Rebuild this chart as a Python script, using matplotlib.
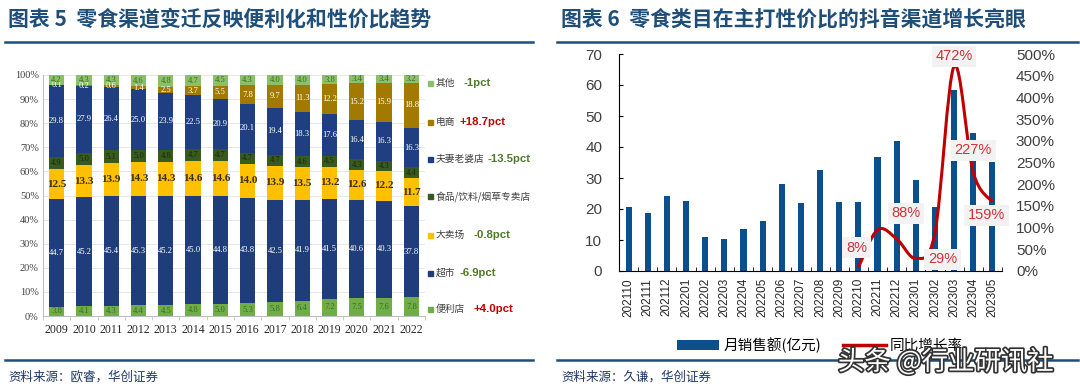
import matplotlib
matplotlib.use("Agg")
import matplotlib.pyplot as plt
import matplotlib.patheffects as pe
from matplotlib.path import Path
from matplotlib.patches import PathPatch, Rectangle, Patch
from matplotlib.lines import Line2D
import numpy as np

plt.rcParams['font.family'] = ['Noto Sans CJK SC', 'DejaVu Sans']

# ---- left chart data: channel share of snack sales (%) ----
years = ['2009', '2010', '2011', '2012', '2013', '2014', '2015',
         '2016', '2017', '2018', '2019', '2020', '2021', '2022']
convenience = [3.8, 4.1, 4.3, 4.4, 4.5, 4.8, 5.0, 5.3, 5.8, 6.4, 7.2, 7.5, 7.6, 7.8]
supermarket = [44.7, 45.2, 45.4, 45.3, 45.2, 45.0, 44.8, 43.8, 42.5, 41.9, 41.5, 40.6, 40.3, 37.8]
hypermarket = [12.5, 13.3, 13.9, 14.3, 14.3, 14.6, 14.6, 14.0, 13.9, 13.5, 13.2, 12.6, 12.2, 11.7]
specialty = [4.9, 5.0, 5.1, 5.0, 4.8, 4.7, 4.7, 4.7, 4.7, 4.6, 4.5, 4.3, 4.3, 4.4]
mom_pop = [29.8, 27.9, 26.4, 25.0, 23.9, 22.5, 20.9, 20.1, 19.4, 18.3, 17.6, 16.4, 16.3, 16.3]
ecommerce = [0.1, 0.2, 0.6, 1.4, 2.5, 3.7, 5.5, 7.8, 9.7, 11.3, 12.2, 15.2, 15.9, 18.8]
others = [4.2, 4.3, 4.3, 4.6, 4.8, 4.7, 4.5, 4.3, 4.0, 4.0, 3.8, 3.4, 3.4, 3.2]

legend_names = ['其他', '电商', '夫妻老婆店', '食品/饮料/烟草专卖店', '大卖场', '超市', '便利店']
legend_pct = ['-1pct', '+18.7pct', '-13.5pct', '', '-0.8pct', '-6.9pct', '+4.0pct']

# ---- right chart data: Douyin snack sales ----
months = ['202110', '202111', '202112', '202201', '202202', '202203', '202204',
          '202205', '202206', '202207', '202208', '202209', '202210', '202211',
          '202212', '202301', '202302', '202303', '202304', '202305']
sales = [20.6, 18.8, 24.2, 22.7, 11.0, 10.2, 13.7, 16.2, 28.2, 22.0,
         32.5, 22.2, 22.2, 36.7, 42.0, 29.4, 20.7, 58.3, 44.5, 35.3]
yoy_months = ['202210', '202211', '202212', '202301', '202302', '202303', '202304', '202305']
yoy = [8, 95, 74, 29, 88, 472, 227, 159]
yoy_labels = ['8%', '88%', '29%', '472%', '227%', '159%']
yoy_label_pos = [(11.9, 54), (14.5, 133), (16.4, 27), (17.0, 495), (18.0, 278), (18.7, 128)]

W, H = 1080, 388
fig = plt.figure(figsize=(W / 100, H / 100), dpi=100)


def fx(px):
    return px / W


def fy(py):
    return 1 - py / H


title_color = '#1F4E79'
fig.text(fx(8), fy(19), '图表 5  零食渠道变迁反映便利化和性价比趋势', fontsize=15,
         fontweight='bold', color=title_color, va='center', ha='left')
fig.text(fx(561), fy(19), '图表 6  零食类目在主打性价比的抖音渠道增长亮眼', fontsize=15,
         fontweight='bold', color=title_color, va='center', ha='left')
for x0, x1 in [(5, 533), (557, 1078)]:
    fig.add_artist(Line2D([fx(x0), fx(x1)], [fy(42), fy(42)], color=title_color, lw=1.8))
    fig.add_artist(Line2D([fx(x0), fx(x1)], [fy(360), fy(360)], color=title_color, lw=1.8))
fig.text(fx(8), fy(377), '资料来源：欧睿，华创证券', fontsize=9, color='#1F3864', va='center')
fig.text(fx(561), fy(377), '资料来源：久谦，华创证券', fontsize=9, color='#1F3864', va='center')

# ---------------- left chart ----------------
ax1 = fig.add_axes([fx(43), fy(316), fx(425 - 43), (316 - 75) / H])
layers = [
    (convenience, '#70AD47', '#3B6E22', 'normal'),
    (supermarket, '#1F3D7A', 'white', 'normal'),
    (hypermarket, '#FFC000', '#3A2E10', 'bold'),
    (specialty, '#375A1E', '#1C2A0E', 'normal'),
    (mom_pop, '#203F82', 'white', 'normal'),
    (ecommerce, '#A27A00', 'white', 'normal'),
    (others, '#8CC068', '#3B6E22', 'normal'),
]
x = np.arange(len(years))
bottom = np.zeros(len(years))
for vals, color, tcolor, weight in layers:
    vals = np.array(vals)
    ax1.bar(x, vals, width=0.56, bottom=bottom, color=color, zorder=2)
    for xi, v, b in zip(x, vals, bottom):
        ax1.text(xi, b + v / 2, f'{v:.1f}', ha='center', va='center',
                 fontsize=8 if weight == 'bold' else 6.2, fontweight=weight,
                 color=tcolor, family='Liberation Serif', zorder=3)
    bottom += vals

ax1.set_xlim(-0.5, len(years) - 0.5)
ax1.set_ylim(0, 100)
ax1.set_yticks(range(0, 101, 10))
ax1.set_yticklabels([f'{t}%' for t in range(0, 101, 10)], family='Liberation Serif',
                    fontsize=7.5, color='#404040')
ax1.set_xticks(x)
ax1.set_xticklabels(years, family='Liberation Serif', fontsize=8.5, color='#262626')
ax1.set_xticks(np.arange(-0.5, len(years), 1), minor=True)
ax1.tick_params(axis='x', which='major', length=0, pad=6)
ax1.tick_params(axis='x', which='minor', length=3, color='#BFBFBF')
ax1.tick_params(axis='y', length=0, pad=3)
ax1.yaxis.grid(True, color='#E3E3E3', lw=0.6, zorder=0)
ax1.set_axisbelow(True)
for s in ['top', 'right']:
    ax1.spines[s].set_visible(False)
ax1.spines['left'].set_color('#BFBFBF')
ax1.spines['bottom'].set_color('#BFBFBF')

legend_y = [83, 122, 159, 197, 235, 273, 309]
pct_x = [463, 460, 487, 0, 473, 460, 473]
legend_colors = [c for _, c, _, _ in layers][::-1]
for name, pct, ypx, col, px0 in zip(legend_names, legend_pct, legend_y, legend_colors, pct_x):
    fig.add_artist(Rectangle((fx(428), fy(ypx + 2.5)), fx(5), 5 / H, color=col))
    fig.text(fx(436), fy(ypx), name, fontsize=7, color='#404040', va='center')
    if pct:
        pcol = '#C00000' if pct.startswith('+') else '#4E7A2A'
        fig.text(fx(px0), fy(ypx), pct, fontsize=8.2, fontweight='bold', color=pcol,
                 va='center', family='Liberation Sans')

# ---------------- right chart ----------------
ax2 = fig.add_axes([fx(619), fy(271), fx(1002 - 619), (271 - 54) / H])
ax3 = ax2.twinx()
xm = np.arange(len(months))
ax2.bar(xm, sales, width=0.32, color='#0B4F8C', zorder=2)
ax2.set_xlim(-0.5, len(months) - 0.5)
ax2.set_ylim(0, 70)
ax2.set_yticks(range(0, 71, 10))
ax2.set_yticklabels([str(t) for t in range(0, 71, 10)], family='Liberation Sans',
                    fontsize=11, color='#404040')
ax2.set_xticks(xm)
ax2.set_xticklabels(months, rotation=90, family='Liberation Sans', fontsize=8.5, color='#262626')
ax2.set_xticks(np.arange(-0.5, len(months), 1), minor=True)
ax2.tick_params(axis='x', which='major', length=0, pad=5)
ax2.tick_params(axis='x', which='minor', length=3, direction='in', color='black')
ax2.tick_params(axis='y', length=3, direction='in', pad=12)
for s in ['top', 'right']:
    ax2.spines[s].set_visible(False)
for s in ax3.spines.values():
    s.set_visible(False)

ax3.set_ylim(0, 500)
ax3.set_yticks(range(0, 501, 50))
ax3.set_yticklabels([f'{t}%' for t in range(0, 501, 50)], family='Liberation Sans',
                    fontsize=11, color='#404040')
ax3.tick_params(axis='y', length=0, pad=10)

# smoothed growth line as Catmull-Rom bezier through the data points
px = np.array([months.index(m) for m in yoy_months], dtype=float)
py = np.array(yoy, dtype=float)
pts = np.column_stack([px, py])
ext = np.vstack([pts[0], pts, pts[-1]])
verts = [tuple(pts[0])]
codes = [Path.MOVETO]
for i in range(len(pts) - 1):
    p0, p1, p2, p3 = ext[i], ext[i + 1], ext[i + 2], ext[i + 3]
    c1 = p1 + (p2 - p0) / 6
    c2 = p2 - (p3 - p1) / 6
    verts += [tuple(c1), tuple(c2), tuple(p2)]
    codes += [Path.CURVE4] * 3
line_color = '#C00000'
ax3.add_patch(PathPatch(Path(verts, codes), fill=False, edgecolor=line_color, lw=2.2, zorder=3))

for lab, (lx, ly) in zip(yoy_labels, yoy_label_pos):
    ax3.text(lx, ly, lab, ha='center', va='center', fontsize=10.5, color='#D0313B',
             family='Liberation Sans', zorder=4,
             bbox=dict(boxstyle='square,pad=0.25', facecolor='#F2F2F2', edgecolor='none'))

handles = [Patch(facecolor='#0B4F8C', edgecolor='none'),
           Line2D([0], [0], color=line_color, lw=2.5)]
fig.legend(handles, ['月销售额(亿元)', '同比增长率'], loc='center',
           bbox_to_anchor=(fx(820), fy(345)), ncol=2, frameon=False, fontsize=10.5,
           handlelength=2.9, handleheight=0.7, columnspacing=1.5, handletextpad=0.3,
           borderpad=0.2)

fig.text(fx(838), fy(362), '头条 @行业研讯社', fontsize=19, color='white', va='center',
         ha='left', zorder=10,
         path_effects=[pe.withStroke(linewidth=2.5, foreground='#333333')])

fig.savefig('out.png', dpi=100)
